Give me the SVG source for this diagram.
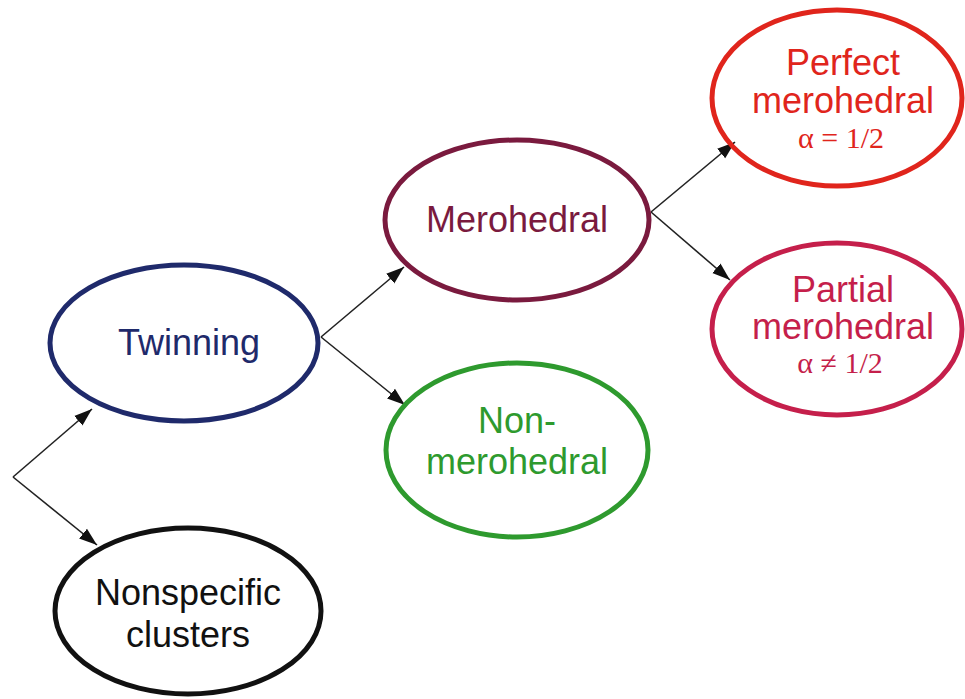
<svg xmlns="http://www.w3.org/2000/svg" width="965" height="699" viewBox="0 0 965 699">
<defs>
<marker id="ah" viewBox="0 0 10 10" refX="10" refY="5" markerWidth="18" markerHeight="18" markerUnits="userSpaceOnUse" orient="auto">
<path d="M0,1.5 L10,5 L0,8.5 Z" fill="#111"/>
</marker>
<style>
.n{fill:none;stroke-width:5}
.t{font-family:"Liberation Sans",Arial,sans-serif;font-size:36px;text-anchor:middle}
.a{font-family:"Liberation Serif","Times New Roman",serif;font-size:30px;text-anchor:middle}
.c line{stroke:#222;stroke-width:1.6;marker-end:url(#ah)}
</style>
</defs>
<rect width="965" height="699" fill="#fff"/>
<g class="c" id="connectors">
<line x1="13" y1="477" x2="92" y2="409"/>
<line x1="13" y1="477" x2="97" y2="545"/>
<line x1="321" y1="337" x2="404" y2="267"/>
<line x1="321" y1="337" x2="405" y2="405"/>
<line x1="651" y1="212" x2="735" y2="142"/>
<line x1="651" y1="212" x2="730" y2="280"/>
</g>
<g id="twinning">
<ellipse class="n" cx="184" cy="343" rx="134" ry="78" stroke="#1f2a6b"/>
<text class="t" x="189" y="355" fill="#1f2a6b">Twinning</text>
</g>
<g id="nonspecific">
<ellipse class="n" cx="188" cy="611" rx="133" ry="83" stroke="#111"/>
<text class="t" x="188" y="605" fill="#111">Nonspecific</text>
<text class="t" x="188" y="647" fill="#111">clusters</text>
</g>
<g id="merohedral">
<ellipse class="n" cx="517" cy="220" rx="132" ry="80" stroke="#7a1a3e"/>
<text class="t" x="517" y="232" fill="#7a1a3e">Merohedral</text>
</g>
<g id="nonmerohedral">
<ellipse class="n" cx="517" cy="450" rx="131" ry="87" stroke="#2e9a2e"/>
<text class="t" x="517" y="433" fill="#2e9a2e">Non-</text>
<text class="t" x="517" y="474" fill="#2e9a2e">merohedral</text>
</g>
<g id="perfect">
<ellipse class="n" cx="837" cy="98" rx="125" ry="88" stroke="#e0251c"/>
<text class="t" x="843" y="75" fill="#e0251c">Perfect</text>
<text class="t" x="843" y="113" fill="#e0251c">merohedral</text>
<text class="a" x="841" y="148" fill="#e0251c">α = 1/2</text>
</g>
<g id="partial">
<ellipse class="n" cx="837" cy="329" rx="125" ry="86" stroke="#c51f4b"/>
<text class="t" x="843" y="302" fill="#c51f4b">Partial</text>
<text class="t" x="843" y="339" fill="#c51f4b">merohedral</text>
<text class="a" x="840" y="373" fill="#c51f4b">α ≠ 1/2</text>
</g>
</svg>
